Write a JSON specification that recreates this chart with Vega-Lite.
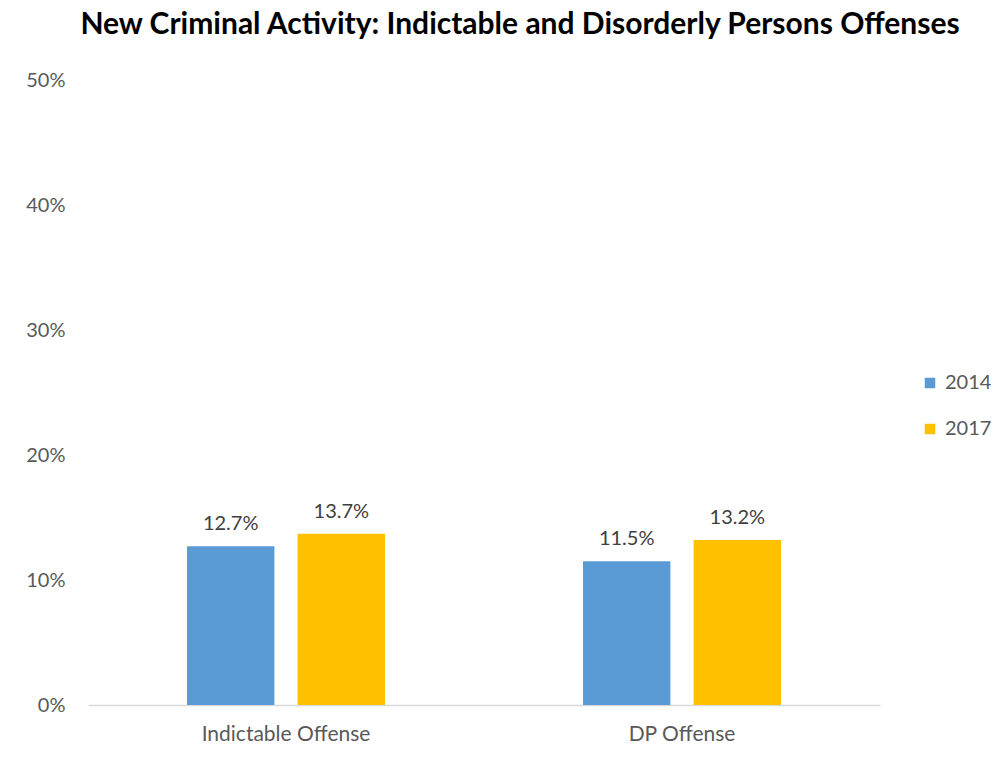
{
  "$schema": "https://vega.github.io/schema/vega-lite/v6.json",
  "autosize": "none",
  "width": 792,
  "height": 625,
  "padding": {"left": 88, "top": 80, "right": 126, "bottom": 60},
  "background": "white",
  "title": {
    "text": "New Criminal Activity: Indictable and Disorderly Persons Offenses",
    "font": "Lato",
    "fontSize": 30,
    "fontWeight": "bold",
    "color": "#000000",
    "anchor": "middle",
    "frame": "group",
    "dx": 36,
    "offset": 30
  },
  "data": {
    "values": [
      {"category": "Indictable Offense", "year": "2014", "value": 0.127},
      {"category": "Indictable Offense", "year": "2017", "value": 0.137},
      {"category": "DP Offense", "year": "2014", "value": 0.115},
      {"category": "DP Offense", "year": "2017", "value": 0.132}
    ]
  },
  "encoding": {
    "x": {
      "field": "category",
      "type": "nominal",
      "sort": ["Indictable Offense", "DP Offense"],
      "scale": {"paddingInner": 0.5, "paddingOuter": 0.25},
      "axis": {
        "title": null,
        "labelAngle": 0,
        "labelFont": "Lato",
        "labelFontSize": 21,
        "labelColor": "#595959",
        "labelPadding": 18,
        "ticks": false,
        "domainColor": "#d9d9d9",
        "domainWidth": 1.5
      }
    },
    "xOffset": {
      "field": "year",
      "type": "nominal",
      "scale": {"paddingInner": 0.21}
    },
    "y": {
      "field": "value",
      "type": "quantitative",
      "scale": {"domain": [0, 0.5]},
      "axis": {
        "title": null,
        "format": ".0%",
        "values": [0, 0.1, 0.2, 0.3, 0.4, 0.5],
        "labelFont": "Lato",
        "labelFontSize": 20,
        "labelColor": "#595959",
        "labelPadding": 23,
        "ticks": false,
        "domain": false,
        "grid": false
      }
    }
  },
  "layer": [
    {
      "mark": {"type": "bar"},
      "encoding": {
        "color": {
          "field": "year",
          "type": "nominal",
          "scale": {"domain": ["2014", "2017"], "range": ["#5b9bd5", "#ffc000"]},
          "legend": {
            "title": null,
            "orient": "none",
            "legendX": 832,
            "legendY": 293,
            "symbolType": "square",
            "symbolSize": 110,
            "symbolStrokeWidth": 0,
            "labelFont": "Lato",
            "labelFontSize": 20,
            "labelColor": "#595959",
            "rowPadding": 26,
            "labelOffset": 5
          }
        }
      }
    },
    {
      "mark": {"type": "text", "baseline": "bottom", "dy": -12, "font": "Lato", "fontSize": 20, "color": "#404040"},
      "encoding": {
        "text": {"field": "value", "type": "quantitative", "format": ".1%"}
      }
    }
  ],
  "config": {"view": {"stroke": null}}
}
